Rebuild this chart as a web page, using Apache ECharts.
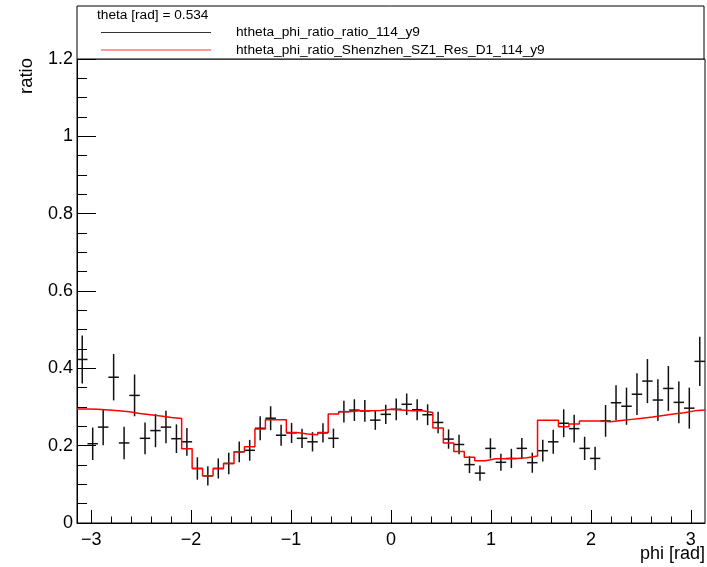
<!DOCTYPE html>
<html>
<head>
<meta charset="utf-8">
<script src="https://cdn.jsdelivr.net/npm/echarts@6/dist/echarts.min.js"></script>
<style>
html,body{margin:0;padding:0;background:#fff;}
#chart{width:707px;height:567px;}
</style>
</head>
<body>
<div id="chart"></div>
<script>
// ---- data ----
var phiMin = -Math.PI, phiMax = Math.PI;
var thetaLabel = 'theta [rad] = 0.534';
var dataName = 'htheta_phi_ratio_ratio_114_y9';
var modelName = 'htheta_phi_ratio_Shenzhen_SZ1_Res_D1_114_y9';
var dataValues = [0.423,0.205,0.248,0.377,0.207,0.330,0.219,0.239,0.248,0.218,
                  0.210,0.141,0.122,0.141,0.154,0.184,0.188,0.245,0.271,0.227,
                  0.233,0.219,0.210,0.233,0.219,0.288,0.292,0.290,0.266,0.281,
                  0.294,0.307,0.293,0.280,0.260,0.217,0.203,0.151,0.129,0.193,
                  0.157,0.167,0.193,0.156,0.187,0.210,0.258,0.244,0.193,0.167,
                  0.264,0.311,0.302,0.333,0.367,0.318,0.348,0.312,0.297,0.418];
var dataErrors = [0.062,0.042,0.047,0.060,0.042,0.054,0.041,0.043,0.042,0.037,
                  0.036,0.029,0.025,0.026,0.028,0.027,0.027,0.031,0.031,0.027,
                  0.026,0.025,0.025,0.025,0.025,0.028,0.028,0.028,0.025,0.025,
                  0.028,0.028,0.027,0.027,0.028,0.025,0.025,0.022,0.020,0.026,
                  0.022,0.025,0.027,0.026,0.028,0.031,0.036,0.036,0.030,0.030,
                  0.041,0.045,0.048,0.054,0.057,0.054,0.058,0.054,0.053,0.064];
var modelValues = [0.295,0.294,0.292,0.290,0.288,0.283,0.280,0.277,0.273,0.270,
                   0.192,0.141,0.122,0.141,0.154,0.184,0.197,0.243,0.267,0.267,
                   0.234,0.230,0.228,0.234,0.282,0.288,0.290,0.290,0.291,0.294,
                   0.292,0.290,0.290,0.286,0.246,0.207,0.185,0.170,0.161,0.166,
                   0.166,0.167,0.169,0.173,0.266,0.266,0.249,0.256,0.264,0.264,
                   0.262,0.265,0.268,0.271,0.274,0.278,0.282,0.285,0.290,0.292];
var xMajorTicks = [-3,-2,-1,0,1,2,3];
var xMinorTicks = [];
for (var t = -30; t <= 30; t += 2) { if (t % 10 !== 0) xMinorTicks.push(t / 10); }

// ---- derived (bin structure) ----
var nBins = dataValues.length;
var binW = (phiMax - phiMin) / nBins;
var points = dataValues.map(function (v, i) {
  return [phiMin + (i + 0.5) * binW, v, dataErrors[i]];
});
var steps = [];
modelValues.forEach(function (v, i) {
  steps.push([phiMin + i * binW, v]);
  steps.push([phiMin + (i + 1) * binW, v]);
});

var FONT = 'Liberation Sans, Arial, Helvetica, sans-serif';
var chart = echarts.init(document.getElementById('chart'), null, {renderer: 'canvas'});
chart.setOption({
  animation: false,
  backgroundColor: '#fff',
  grid: {left: 77, right: 2, top: 59, bottom: 44, show: true, borderColor: '#000', borderWidth: 1, containLabel: false},
  xAxis: [{
    type: 'value', min: phiMin, max: phiMax, position: 'bottom',
    axisLine: {onZero: false, lineStyle: {color: '#000', width: 1}},
    axisTick: {show: true, inside: true, length: 13, customValues: xMajorTicks, lineStyle: {color: '#000', width: 1}},
    axisLabel: {show: true, customValues: xMajorTicks, color: '#000', fontSize: 18, fontFamily: FONT, margin: 8,
      formatter: function (v) { return String(v).replace('-', '\u2212'); }},
    splitLine: {show: false}
  }, {
    type: 'value', min: phiMin, max: phiMax, position: 'bottom', offset: 0,
    axisLine: {show: false, onZero: false},
    axisTick: {show: true, inside: true, length: 6.5, customValues: xMinorTicks, lineStyle: {color: '#000', width: 1}},
    axisLabel: {show: false},
    splitLine: {show: false}
  }],
  yAxis: {
    type: 'value', min: 0, max: 1.2, interval: 0.2, position: 'left',
    axisLine: {show: true, onZero: false, lineStyle: {color: '#000', width: 1}},
    axisTick: {show: true, inside: true, length: 19, lineStyle: {color: '#000', width: 1}},
    minorTick: {show: true, splitNumber: 4, length: 10, lineStyle: {color: '#000', width: 1}},
    axisLabel: {color: '#000', fontSize: 18, fontFamily: FONT, margin: 4},
    splitLine: {show: false}
  },
  series: [{
    name: dataName,
    type: 'custom',
    xAxisIndex: 0,
    data: points,
    clip: true,
    renderItem: function (params, api) {
      var x = api.value(0), y = api.value(1), e = api.value(2);
      var a = api.coord([x - binW / 2, y]), b = api.coord([x + binW / 2, y]);
      var c = api.coord([x, y - e]), d = api.coord([x, y + e]);
      return {type: 'group', children: [
        {type: 'line', shape: {x1: a[0], y1: a[1], x2: b[0], y2: b[1]}, style: {stroke: '#111', lineWidth: 1.5}},
        {type: 'line', shape: {x1: c[0], y1: c[1], x2: d[0], y2: d[1]}, style: {stroke: '#111', lineWidth: 1.5}}
      ]};
    }
  }, {
    name: modelName,
    type: 'line',
    xAxisIndex: 0,
    data: steps,
    showSymbol: false,
    symbol: 'none',
    lineStyle: {color: '#ff0000', width: 1.5},
    clip: true
  }],
  graphic: [
    {type: 'rect', shape: {x: 77, y: 6, width: 627, height: 53}, style: {fill: '#fff', stroke: '#000', lineWidth: 1}, z: 100},
    {type: 'text', x: 97, y: 15, style: {text: thetaLabel, font: '13.7px ' + FONT, fill: '#000', textVerticalAlign: 'middle'}, z: 101},
    {type: 'line', shape: {x1: 101, y1: 32.5, x2: 211, y2: 32.5}, style: {stroke: '#333', lineWidth: 1}, z: 101},
    {type: 'line', shape: {x1: 101, y1: 50, x2: 211, y2: 50}, style: {stroke: '#ff3333', lineWidth: 1}, z: 101},
    {type: 'text', x: 236, y: 32.5, style: {text: dataName, font: '13.7px ' + FONT, fill: '#000', textVerticalAlign: 'middle'}, z: 101},
    {type: 'text', x: 236, y: 50, style: {text: modelName, font: '13.7px ' + FONT, fill: '#000', textVerticalAlign: 'middle'}, z: 101},
    {type: 'text', x: 705, y: 554, style: {text: 'phi [rad]', font: '18px ' + FONT, fill: '#000', textAlign: 'right', textVerticalAlign: 'middle'}, z: 101},
    {type: 'text', x: 27, y: 58, rotation: Math.PI / 2, style: {text: 'ratio', font: '18.5px ' + FONT, fill: '#000', textAlign: 'right', textVerticalAlign: 'middle'}, z: 101}
  ]
});
</script>
</body>
</html>
